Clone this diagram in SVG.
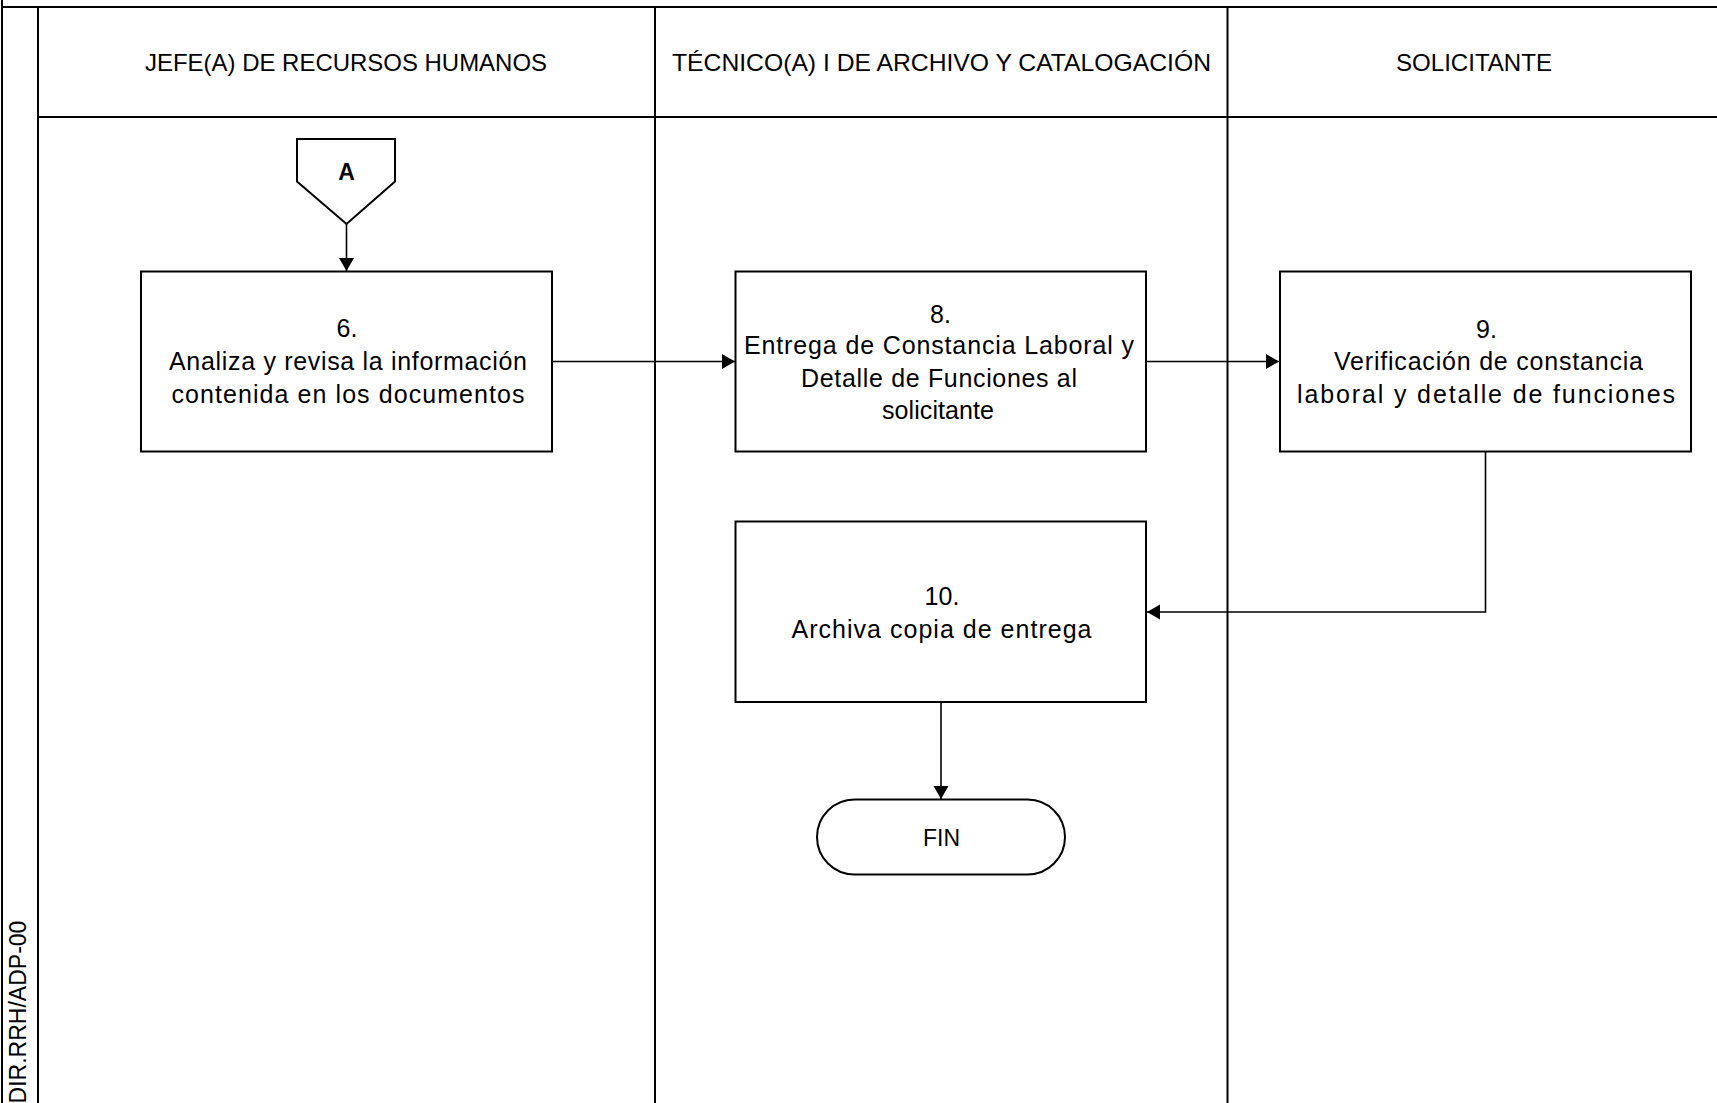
<svg xmlns="http://www.w3.org/2000/svg" width="1717" height="1103" viewBox="0 0 1717 1103">
<style>
.lane{stroke:#000;stroke-width:2;fill:none}
.box{fill:#fff;stroke:#000;stroke-width:2}
.conn{stroke:#000;stroke-width:1.6;fill:none}
text{font-family:"Liberation Sans",Arial,sans-serif;font-size:25px;fill:#000;text-anchor:middle}
.hdr{font-size:24px}
.small{font-size:23px}
.bold{font-weight:bold;font-size:23px}
</style>
<defs>
<marker id="arr" markerUnits="userSpaceOnUse" markerWidth="14" markerHeight="16" refX="13" refY="7.5" orient="auto">
<path d="M0,0 L13,7.5 L0,15 z" fill="#000"/>
</marker>
</defs>
<rect x="0" y="0" width="1717" height="1103" fill="#fff"/>
<g id="swimlanes">
<line class="lane" x1="2" y1="0" x2="2" y2="1103"/>
<line class="lane" x1="2" y1="7" x2="1717" y2="7"/>
<line class="lane" x1="38" y1="7" x2="38" y2="1103"/>
<line class="lane" x1="38" y1="117" x2="1717" y2="117"/>
<line class="lane" x1="655" y1="7" x2="655" y2="1103"/>
<line class="lane" x1="1227.5" y1="7" x2="1227.5" y2="1103"/>
<text class="hdr" x="346" y="71" textLength="402" lengthAdjust="spacingAndGlyphs">JEFE(A) DE RECURSOS HUMANOS</text>
<text class="hdr" x="941.5" y="71" textLength="539" lengthAdjust="spacingAndGlyphs">TÉCNICO(A) I DE ARCHIVO Y CATALOGACIÓN</text>
<text class="hdr" x="1474" y="71" textLength="156" lengthAdjust="spacingAndGlyphs">SOLICITANTE</text>
<text class="small" transform="translate(26,1012) rotate(-90)" x="0" y="0">DIR.RRH/ADP-00</text>
</g>
<g id="connectors">
<line class="conn" x1="346.5" y1="224" x2="346.5" y2="271" marker-end="url(#arr)"/>
<line class="conn" x1="552" y1="361.5" x2="735" y2="361.5" marker-end="url(#arr)"/>
<line class="conn" x1="1146" y1="361.5" x2="1279" y2="361.5" marker-end="url(#arr)"/>
<polyline class="conn" points="1485.5,451 1485.5,612 1147,612" marker-end="url(#arr)"/>
<line class="conn" x1="941" y1="702" x2="941" y2="799" marker-end="url(#arr)"/>
</g>
<g id="node-A">
<polygon class="box" points="297,139 395,139 395,181.5 346.5,224 297,181.5"/>
<text class="bold" x="346.5" y="180">A</text>
</g>
<g id="node-6">
<rect class="box" x="141" y="271.5" width="411" height="180"/>
<text x="347" y="337">6.</text>
<text x="348" y="370" textLength="358" lengthAdjust="spacing">Analiza y revisa la información</text>
<text x="348" y="403" textLength="353" lengthAdjust="spacing">contenida en los documentos</text>
</g>
<g id="node-8">
<rect class="box" x="735.5" y="271.5" width="410.5" height="180"/>
<text x="940.5" y="322.5">8.</text>
<text x="939" y="353.5" textLength="390" lengthAdjust="spacing">Entrega de Constancia Laboral y</text>
<text x="939" y="386.5" textLength="276" lengthAdjust="spacing">Detalle de Funciones al</text>
<text x="938" y="419" textLength="112" lengthAdjust="spacing">solicitante</text>
</g>
<g id="node-9">
<rect class="box" x="1280" y="271.5" width="411" height="180"/>
<text x="1486.5" y="338">9.</text>
<text x="1488.5" y="370" textLength="309" lengthAdjust="spacing">Verificación de constancia</text>
<text x="1486" y="403" textLength="378" lengthAdjust="spacing">laboral y detalle de funciones</text>
</g>
<g id="node-10">
<rect class="box" x="735.5" y="521.5" width="410.5" height="180.5"/>
<text x="942" y="604.5">10.</text>
<text x="941.5" y="637.5" textLength="300" lengthAdjust="spacing">Archiva copia de entrega</text>
</g>
<g id="node-FIN">
<rect class="box" x="817" y="799.5" width="248" height="75" rx="37.5" ry="37.5"/>
<text class="small" x="941.5" y="846">FIN</text>
</g>
</svg>
